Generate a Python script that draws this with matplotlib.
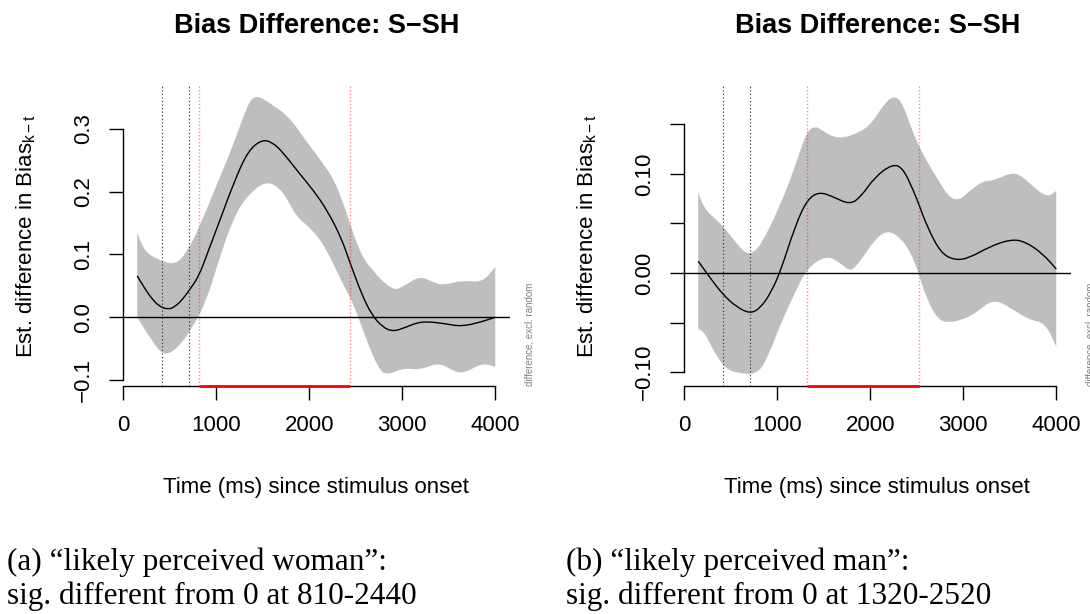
import matplotlib
matplotlib.use("Agg")
import matplotlib.pyplot as plt
from matplotlib.path import Path
from matplotlib.patches import PathPatch
import numpy as np

plt.rcParams['font.family'] = ['Liberation Sans', 'DejaVu Sans']
plt.rcParams['mathtext.fontset'] = 'custom'
plt.rcParams['mathtext.rm'] = 'Liberation Sans'
plt.rcParams['mathtext.it'] = 'Liberation Sans'
plt.rcParams['axes.unicode_minus'] = True

# --- "likely perceived woman" -------------------------------------------
woman_t_fit = [150, 230, 300, 380, 480, 560, 640, 715, 815, 900, 1040, 1190, 1340,
               1490, 1600, 1710, 1900, 2040, 2190, 2340, 2440, 2560, 2670, 2790,
               2900, 3040, 3150, 3270, 3450, 3640, 3860, 4000]
woman_fit = [0.066, 0.046, 0.031, 0.018, 0.012, 0.017, 0.029, 0.044, 0.066, 0.100,
             0.155, 0.215, 0.265, 0.283, 0.279, 0.264, 0.228, 0.203, 0.171, 0.128,
             0.086, 0.038, 0.004, -0.016, -0.023, -0.016, -0.009, -0.007, -0.010,
             -0.015, -0.007, 0.000]
woman_t_hi = [150, 230, 380, 560, 690, 820, 1010, 1190, 1340, 1430, 1560, 1780, 1930,
              2120, 2270, 2380, 2530, 2670, 2900, 3010, 3190, 3340, 3450, 3640,
              3860, 4000]
woman_hi = [0.134, 0.105, 0.091, 0.083, 0.105, 0.144, 0.213, 0.277, 0.341, 0.354,
            0.343, 0.320, 0.288, 0.251, 0.219, 0.176, 0.107, 0.075, 0.042, 0.049,
            0.066, 0.055, 0.051, 0.059, 0.055, 0.080]
woman_t_lo = [150, 300, 440, 600, 750, 900, 1040, 1190, 1340, 1540, 1710, 1860, 2040,
              2190, 2340, 2490, 2600, 2750, 2840, 3010, 3190, 3400, 3560, 3670,
              3860, 4000]
woman_lo = [0.000, -0.036, -0.063, -0.047, -0.015, 0.028, 0.097, 0.160, 0.195, 0.218,
            0.203, 0.160, 0.139, 0.107, 0.059, 0.017, -0.031, -0.084, -0.092, -0.081,
            -0.084, -0.072, -0.087, -0.089, -0.073, -0.079]
woman_sig = (810, 2440)

# --- "likely perceived man" ---------------------------------------------
man_t_fit = [150, 295, 420, 560, 710, 820, 930, 1040, 1190, 1320, 1450, 1600, 1780,
             1900, 2050, 2240, 2350, 2460, 2520, 2610, 2760, 2910, 3060, 3290, 3510,
             3660, 3850, 4000]
man_fit = [0.012, -0.007, -0.022, -0.034, -0.041, -0.035, -0.020, 0.003, 0.047,
           0.074, 0.082, 0.077, 0.069, 0.077, 0.097, 0.110, 0.106, 0.084, 0.070,
           0.047, 0.020, 0.013, 0.015, 0.027, 0.034, 0.032, 0.020, 0.004]
man_t_hi = [150, 220, 370, 480, 630, 710, 820, 1040, 1190, 1320, 1420, 1490, 1660,
            1870, 2020, 2150, 2260, 2350, 2460, 2580, 2730, 2840, 2950, 3060, 3210,
            3320, 3510, 3620, 3810, 3920, 4000]
man_hi = [0.081, 0.064, 0.052, 0.040, 0.022, 0.019, 0.027, 0.070, 0.107, 0.144,
          0.148, 0.143, 0.135, 0.141, 0.151, 0.171, 0.179, 0.171, 0.141, 0.117,
          0.094, 0.077, 0.073, 0.082, 0.093, 0.093, 0.101, 0.099, 0.082, 0.077, 0.083]
man_t_lo = [150, 220, 330, 450, 590, 780, 890, 1040, 1190, 1320, 1530, 1680, 1790,
            1900, 2050, 2180, 2310, 2430, 2520, 2610, 2730, 2840, 2990, 3140, 3320,
            3510, 3700, 3880, 4000]
man_lo = [-0.056, -0.060, -0.081, -0.097, -0.101, -0.102, -0.087, -0.050, -0.020,
          0.005, 0.018, 0.010, 0.001, 0.013, 0.034, 0.043, 0.037, 0.022, 0.000,
          -0.027, -0.047, -0.050, -0.047, -0.040, -0.026, -0.035, -0.047, -0.050, -0.074]
man_sig = (1320, 2520)

event_times = [420, 710]
x_ticks = [0, 1000, 2000, 3000, 4000]

W, H = 1090, 614
fig = plt.figure(figsize=(W / 100, H / 100), dpi=100)

ax_b, ax_h, ax_w = 0.37085, 0.48958, 0.35477
ax1 = fig.add_axes([0.11275, ax_b, ax_w, ax_h])
ax2 = fig.add_axes([0.62743, ax_b, ax_w, ax_h])


def smooth_segments(x, y):
    """Vertices/codes of a quadratic B-spline style path through the points."""
    pts = np.column_stack([x, y]).astype(float)
    mids = (pts[:-1] + pts[1:]) / 2
    verts = [pts[0], mids[0]]
    codes = [Path.LINETO, Path.LINETO]
    for i in range(1, len(pts) - 1):
        verts += [pts[i], mids[i]]
        codes += [Path.CURVE3, Path.CURVE3]
    verts.append(pts[-1])
    codes.append(Path.LINETO)
    return verts, codes


def smooth_line(ax, x, y, **kw):
    verts, codes = smooth_segments(x, y)
    codes[0] = Path.MOVETO
    ax.add_patch(PathPatch(Path(verts, codes), fill=False, **kw))


def smooth_band(ax, t_hi, hi, t_lo, lo, **kw):
    v1, c1 = smooth_segments(t_hi, hi)
    v2, c2 = smooth_segments(t_lo[::-1], lo[::-1])
    c1[0] = Path.MOVETO
    verts = v1 + v2 + [v1[0]]
    codes = c1 + c2 + [Path.CLOSEPOLY]
    ax.add_patch(PathPatch(Path(verts, codes), **kw))


def draw_panel(ax, t_fit, fit, t_hi, hi, t_lo, lo, sig, ylim, yticks, ylabels):
    ax.set_xlim(-4, 4154)
    ax.set_ylim(*ylim)
    smooth_band(ax, t_hi, hi, t_lo, lo, facecolor='#bebebe', lw=0, zorder=1)
    ax.axhline(0, color='black', lw=1.0, zorder=2)
    smooth_line(ax, t_fit, fit, edgecolor='black', lw=1.0, zorder=3)
    for t in event_times:
        ax.axvline(t, color='#222222', lw=0.8, ls=(0, (1, 2.2)), zorder=4)
    for t in sig:
        ax.axvline(t, color='red', alpha=0.45, lw=1.0, ls=(0, (1, 1.5)), zorder=4)
    ax.plot(sig, [ylim[0], ylim[0]], color='red', lw=2.0, clip_on=False, zorder=6,
            solid_capstyle='butt')

    for s in ['top', 'right']:
        ax.spines[s].set_visible(False)
    ax.spines['left'].set_bounds(yticks[0], yticks[-1])
    ax.spines['bottom'].set_bounds(0, 4000)
    for s in ['left', 'bottom']:
        ax.spines[s].set_linewidth(1.0)
    ax.set_xticks(x_ticks)
    ax.set_xticklabels([str(v) for v in x_ticks])
    ax.set_yticks(yticks)
    ax.set_yticklabels(ylabels)
    ax.tick_params(length=10, width=1.0, pad=11, labelsize=16)
    for lab in ax.get_yticklabels():
        lab.set_rotation(90)
        lab.set_va('center')

    pos = ax.get_position()
    cx = pos.x0 + pos.width / 2
    fig.text(cx, 1 - 33 / H, 'Bias Difference: S\u2212SH', ha='center',
             va='baseline', fontsize=19.5, fontweight='bold')
    fig.text(cx, 1 - 493 / H, 'Time (ms) since stimulus onset', ha='center',
             va='baseline', fontsize=16)
    fig.text(pos.x0 - 90 / W, pos.y0 + pos.height / 2,
             r'Est. difference in Bias$_{\mathrm{k-t}}$', rotation=90,
             rotation_mode='anchor', ha='center', va='baseline', fontsize=16)
    ax.text(1 + 20.4 / 386.7, 0.0, 'difference, excl. random', rotation=90,
            transform=ax.transAxes, ha='center', va='bottom', fontsize=7,
            color='#808080')


draw_panel(ax1, woman_t_fit, woman_fit, woman_t_hi, woman_hi, woman_t_lo, woman_lo,
           woman_sig, (-0.1101, 0.369), [-0.1, 0.0, 0.1, 0.2, 0.3],
           ['\u22120.1', '0.0', '0.1', '0.2', '0.3'])
draw_panel(ax2, man_t_fit, man_fit, man_t_hi, man_hi, man_t_lo, man_lo,
           man_sig, (-0.1141, 0.1889), [-0.10, -0.05, 0.0, 0.05, 0.10, 0.15],
           ['\u22120.10', '', '0.00', '', '0.10', ''])

# subfigure captions
cap = dict(family=['Liberation Serif', 'DejaVu Serif'], fontsize=22.5, va='baseline')
fig.text(7 / W, 1 - 570 / H, '(a) \u201clikely perceived woman\u201d:', **cap)
fig.text(7 / W, 1 - 604 / H, 'sig. different from 0 at %d-%d' % woman_sig, **cap)
fig.text(566 / W, 1 - 570 / H, '(b) \u201clikely perceived man\u201d:', **cap)
fig.text(566 / W, 1 - 604 / H, 'sig. different from 0 at %d-%d' % man_sig, **cap)

fig.savefig('out.png', dpi=100)
